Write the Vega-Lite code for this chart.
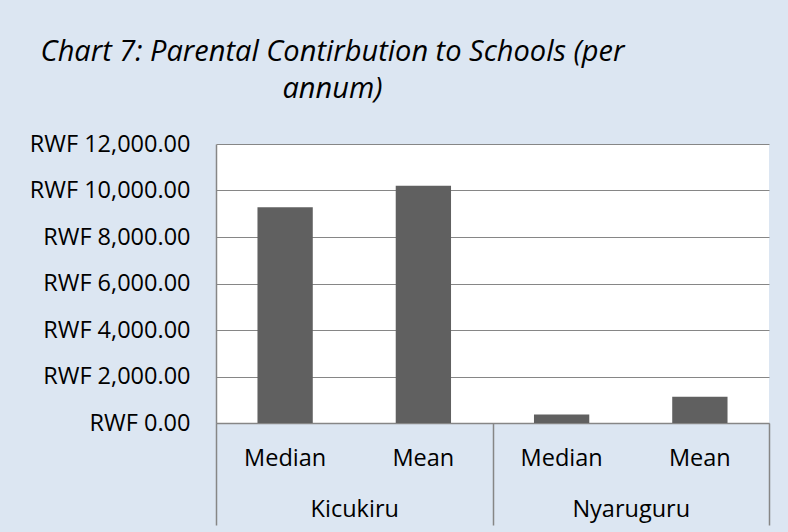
{
  "$schema": "https://vega.github.io/schema/vega-lite/v6.json",
  "width": 553,
  "height": 279,
  "autosize": {"type": "none"},
  "padding": {"left": 216, "top": 144, "right": 19, "bottom": 109},
  "background": "#DCE6F2",
  "config": {"font": "Open Sans", "view": {"fill": "white", "stroke": null}},
  "title": {
    "text": ["Chart 7: Parental Contirbution to Schools (per", "annum)"],
    "font": "Open Sans",
    "fontSize": 29,
    "fontStyle": "italic",
    "fontWeight": "normal",
    "color": "black",
    "anchor": "middle",
    "frame": "group",
    "dx": -160,
    "offset": 28,
    "lineHeight": 37
  },
  "data": {
    "values": [
      {"cat": "Kicukiru-Median", "district": "Kicukiru", "stat": "Median", "value": 9280},
      {"cat": "Kicukiru-Mean", "district": "Kicukiru", "stat": "Mean", "value": 10200},
      {"cat": "Nyaruguru-Median", "district": "Nyaruguru", "stat": "Median", "value": 370},
      {"cat": "Nyaruguru-Mean", "district": "Nyaruguru", "stat": "Mean", "value": 1130}
    ]
  },
  "layer": [
    {
      "mark": {"type": "bar", "color": "#606060"},
      "encoding": {
        "x": {
          "field": "cat",
          "type": "nominal",
          "sort": ["Kicukiru-Median", "Kicukiru-Mean", "Nyaruguru-Median", "Nyaruguru-Mean"],
          "scale": {"paddingInner": 0.6, "paddingOuter": 0.3},
          "axis": {
            "orient": "bottom",
            "title": null,
            "labelExpr": "split(datum.value, '-')[1]",
            "ticks": false,
            "domain": true,
            "domainColor": "#868686",
            "domainWidth": 1.5,
            "grid": false,
            "labelAngle": 0,
            "labelFont": "Open Sans",
            "labelFontSize": 23.5,
            "labelColor": "black",
            "labelBaseline": "middle",
            "labelPadding": 35
          }
        },
        "y": {
          "field": "value",
          "type": "quantitative",
          "scale": {"domain": [0, 12000]},
          "axis": {
            "values": [0, 2000, 4000, 6000, 8000, 10000, 12000],
            "title": null,
            "labelExpr": "'RWF ' + format(datum.value, ',.2f')",
            "grid": true,
            "gridColor": "#868686",
            "gridWidth": 1.2,
            "domainColor": "#868686",
            "domainWidth": 1.5,
            "ticks": false,
            "labelPadding": 26,
            "labelFont": "Open Sans",
            "labelFontSize": 23.5,
            "labelColor": "black",
            "labelLimit": 0
          }
        }
      }
    },
    {
      "mark": {"type": "text", "text": ""},
      "encoding": {
        "x": {
          "field": "district",
          "type": "nominal",
          "sort": ["Kicukiru", "Nyaruguru"],
          "scale": {"paddingInner": 0, "paddingOuter": 0},
          "axis": {
            "orient": "bottom",
            "title": null,
            "domain": false,
            "ticks": true,
            "tickBand": "extent",
            "tickSize": 102,
            "tickColor": "#868686",
            "tickWidth": 1.5,
            "grid": false,
            "labelAngle": 0,
            "labelFont": "Open Sans",
            "labelFontSize": 23.5,
            "labelColor": "black",
            "labelBaseline": "middle",
            "labelPadding": -16
          }
        }
      }
    }
  ],
  "resolve": {"scale": {"x": "independent"}, "axis": {"x": "independent"}}
}
